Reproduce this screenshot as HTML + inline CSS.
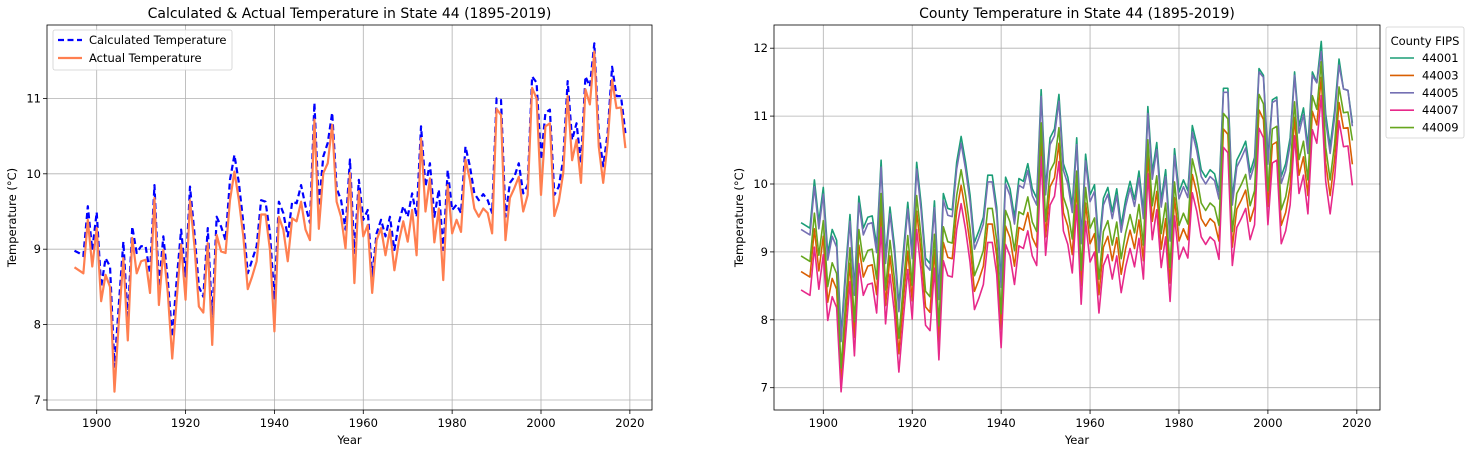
<!DOCTYPE html>
<html><head><meta charset="utf-8"><style>
body{margin:0;background:#fff;}
svg{display:block;font-family:"DejaVu Sans","Liberation Sans",sans-serif;}
</style></head><body>
<svg id="c" width="1470" height="449" viewBox="0 0 1470 449" xmlns="http://www.w3.org/2000/svg"></svg>
<script>
const startYear = 1895;
const actual = [8.76,8.72,8.68,9.39,8.77,9.28,8.31,8.66,8.50,7.11,
8.06,8.88,7.79,9.15,8.68,8.84,8.86,8.42,9.68,8.26,
8.99,8.42,7.55,8.33,9.06,8.33,9.65,9.04,8.24,8.16,
9.08,7.73,9.19,8.97,8.95,9.65,10.03,9.65,9.17,8.47,
8.64,8.84,9.46,9.46,8.99,7.91,9.43,9.26,8.84,9.41,
9.37,9.63,9.26,9.12,10.72,9.27,10.01,10.14,10.65,9.63,
9.43,9.01,10.01,8.55,9.77,9.17,9.32,8.42,9.12,9.28,
8.92,9.26,8.72,9.10,9.37,9.10,9.52,8.92,10.47,9.50,
9.94,9.09,9.54,8.59,9.85,9.21,9.39,9.23,10.19,9.92,
9.54,9.43,9.54,9.48,9.21,10.86,10.78,9.12,9.68,9.81,
9.96,9.50,9.72,11.14,11.00,9.72,10.63,10.67,9.44,9.63,
10.01,11.03,10.18,10.45,9.88,11.12,10.92,11.62,10.36,9.88,
10.41,11.25,10.87,10.88,10.34];
const calculated = [8.98,8.95,8.91,9.57,8.99,9.49,8.50,8.88,8.77,7.44,
8.28,9.10,8.06,9.30,8.95,9.04,9.04,8.68,9.85,8.50,
9.17,8.59,7.84,8.59,9.26,8.64,9.83,9.21,8.50,8.37,
9.28,8.06,9.43,9.30,9.12,9.92,10.25,9.88,9.35,8.68,
8.86,9.04,9.65,9.63,9.21,8.33,9.63,9.48,9.17,9.63,
9.61,9.85,9.57,9.35,10.94,9.57,10.23,10.41,10.81,9.81,
9.65,9.26,10.19,8.95,9.92,9.39,9.52,8.64,9.21,9.39,
9.17,9.43,8.99,9.35,9.57,9.43,9.74,9.43,10.63,9.83,
10.14,9.43,9.79,8.99,10.05,9.52,9.59,9.48,10.36,10.10,
9.74,9.65,9.73,9.65,9.48,11.00,10.98,9.43,9.88,9.96,
10.14,9.74,9.85,11.29,11.21,10.19,10.81,10.85,9.72,9.83,
10.19,11.23,10.45,10.67,10.14,11.29,11.16,11.73,10.54,10.10,
10.54,11.42,11.03,11.03,10.54];
const c44001 = [9.43,9.39,9.35,10.06,9.44,9.95,8.98,9.33,9.17,7.78,
8.73,9.55,8.46,9.82,9.35,9.51,9.53,9.09,10.35,8.93,
9.66,9.09,8.22,9.00,9.73,9.00,10.32,9.71,8.91,8.83,
9.75,8.40,9.86,9.64,9.62,10.32,10.70,10.32,9.84,9.14,
9.31,9.51,10.13,10.13,9.66,8.58,10.10,9.93,9.51,10.08,
10.04,10.30,9.93,9.79,11.39,9.94,10.68,10.81,11.32,10.30,
10.10,9.68,10.68,9.22,10.44,9.84,9.99,9.09,9.79,9.95,
9.59,9.93,9.39,9.77,10.04,9.77,10.19,9.59,11.14,10.17,
10.61,9.76,10.21,9.26,10.52,9.88,10.06,9.90,10.86,10.59,
10.21,10.10,10.21,10.15,9.88,11.41,11.41,9.79,10.35,10.48,
10.63,10.17,10.39,11.70,11.60,10.39,11.24,11.28,10.11,10.30,
10.68,11.65,10.85,11.12,10.55,11.65,11.50,12.10,11.03,10.55,
11.08,11.84,11.40,11.38,10.90];
const c44003 = [8.71,8.67,8.63,9.34,8.72,9.23,8.26,8.61,8.45,7.06,
8.01,8.83,7.74,9.10,8.63,8.79,8.81,8.37,9.63,8.21,
8.94,8.37,7.50,8.28,9.01,8.28,9.60,8.99,8.19,8.11,
9.03,7.68,9.14,8.92,8.90,9.60,9.98,9.60,9.12,8.42,
8.59,8.79,9.41,9.41,8.94,7.86,9.38,9.21,8.79,9.36,
9.32,9.58,9.21,9.07,10.67,9.22,9.96,10.09,10.60,9.58,
9.38,8.96,9.96,8.50,9.72,9.12,9.27,8.37,9.07,9.23,
8.87,9.21,8.67,9.05,9.32,9.05,9.47,8.87,10.42,9.45,
9.89,9.04,9.49,8.54,9.80,9.16,9.34,9.18,10.14,9.87,
9.49,9.38,9.49,9.43,9.16,10.81,10.73,9.07,9.63,9.76,
9.91,9.45,9.67,11.09,10.95,9.67,10.58,10.62,9.39,9.58,
9.96,10.98,10.13,10.40,9.83,11.07,10.87,11.57,10.31,9.83,
10.36,11.20,10.82,10.83,10.29];
const c44005 = [9.33,9.29,9.25,9.96,9.34,9.85,8.88,9.23,9.07,7.68,
8.63,9.45,8.36,9.72,9.25,9.41,9.43,8.99,10.25,8.83,
9.56,8.99,8.12,8.90,9.63,8.90,10.22,9.61,8.81,8.73,
9.65,8.30,9.76,9.54,9.52,10.22,10.60,10.22,9.74,9.04,
9.21,9.41,10.03,10.03,9.56,8.48,10.00,9.83,9.41,9.98,
9.94,10.20,9.83,9.69,11.29,9.84,10.58,10.71,11.22,10.20,
10.00,9.58,10.58,9.12,10.34,9.74,9.89,8.99,9.69,9.85,
9.49,9.83,9.29,9.67,9.94,9.67,10.09,9.49,11.04,10.07,
10.51,9.66,10.11,9.16,10.42,9.78,9.96,9.80,10.76,10.49,
10.11,10.00,10.11,10.05,9.78,11.35,11.35,9.69,10.25,10.38,
10.53,10.07,10.29,11.65,11.57,10.29,11.20,11.24,10.01,10.20,
10.58,11.60,10.75,11.02,10.45,11.60,11.49,11.95,10.93,10.45,
10.98,11.75,11.40,11.38,10.85];
const c44007 = [8.44,8.40,8.36,9.07,8.45,8.96,7.99,8.34,8.18,6.94,
7.74,8.56,7.47,8.83,8.36,8.52,8.54,8.10,9.36,7.94,
8.67,8.10,7.23,8.01,8.74,8.01,9.33,8.72,7.92,7.84,
8.76,7.41,8.87,8.65,8.63,9.33,9.71,9.33,8.85,8.15,
8.32,8.52,9.14,9.14,8.67,7.59,9.11,8.94,8.52,9.09,
9.05,9.31,8.94,8.80,10.40,8.95,9.69,9.82,10.33,9.31,
9.11,8.69,9.69,8.23,9.45,8.85,9.00,8.10,8.80,8.96,
8.60,8.94,8.40,8.78,9.05,8.78,9.20,8.60,10.15,9.18,
9.62,8.77,9.22,8.27,9.53,8.89,9.07,8.91,9.87,9.60,
9.22,9.11,9.22,9.16,8.89,10.54,10.46,8.80,9.36,9.49,
9.64,9.18,9.40,10.82,10.68,9.40,10.31,10.35,9.12,9.31,
9.69,10.71,9.86,10.13,9.56,10.80,10.60,11.30,10.04,9.56,
10.09,10.93,10.55,10.56,9.98];
const c44009 = [8.94,8.90,8.86,9.57,8.95,9.46,8.49,8.84,8.68,7.29,
8.24,9.06,7.97,9.33,8.86,9.02,9.04,8.60,9.86,8.44,
9.17,8.60,7.73,8.51,9.24,8.51,9.83,9.22,8.42,8.34,
9.26,7.91,9.37,9.15,9.13,9.83,10.21,9.83,9.35,8.65,
8.82,9.02,9.64,9.64,9.17,8.09,9.61,9.44,9.02,9.59,
9.55,9.81,9.44,9.30,10.90,9.45,10.19,10.32,10.83,9.81,
9.61,9.19,10.19,8.73,9.95,9.35,9.50,8.60,9.30,9.46,
9.10,9.44,8.90,9.28,9.55,9.28,9.70,9.10,10.65,9.68,
10.12,9.27,9.72,8.77,10.03,9.39,9.57,9.41,10.37,10.10,
9.72,9.61,9.72,9.66,9.39,11.04,10.96,9.30,9.86,9.99,
10.14,9.68,9.90,11.32,11.18,9.90,10.81,10.85,9.62,9.81,
10.19,11.21,10.36,10.63,10.06,11.30,11.10,11.80,10.54,10.06,
10.59,11.43,11.05,11.06,10.64];
const xTicks = [1900,1920,1940,1960,1980,2000,2020];
const yTicksLeft = [7,8,9,10,11];
const yTicksRight = [7,8,9,10,11,12];
const countyNames = ["44001","44003","44005","44007","44009"];
const countyColors = ["#1b9e77","#d95f02","#7570b3","#e7298a","#66a61e"];
const countySeries = [c44001,c44003,c44005,c44007,c44009];

const NS="http://www.w3.org/2000/svg";
const svg=document.getElementById('c');
function mk(tag,attrs,parent){const e=document.createElementNS(NS,tag);for(const k in attrs)e.setAttribute(k,attrs[k]);(parent||svg).appendChild(e);return e;}
function txt(s,attrs,parent){const e=mk('text',attrs,parent);e.textContent=s;return e;}
const FS=11.5;

function panel(cfg){
  const g=mk('g',{});
  
  
  const L=cfg.l,R=cfg.r,T=25,B=410;
  const xs=y=>cfg.x0+(y-1900)*cfg.xk;
  const ys=v=>cfg.y0-(v-cfg.v0)*cfg.yk;
  xTicks.forEach(t=>{const x=xs(t);
    const gl=mk('line',{x1:x,x2:x,y1:T,y2:B,stroke:'#b0b0b0','stroke-width':0.8},g);
    
    mk('line',{x1:x,x2:x,y1:B,y2:B+4,stroke:'#000','stroke-width':0.8},g);
    const tl=txt(String(t),{x:x,y:B+17,'font-size':FS,'text-anchor':'middle',fill:'#000'},g);
    
  });
  cfg.yt.forEach(t=>{const y=ys(t);
    const gl=mk('line',{x1:L,x2:R,y1:y,y2:y,stroke:'#b0b0b0','stroke-width':0.8},g);
    
    mk('line',{x1:L-4,x2:L,y1:y,y2:y,stroke:'#000','stroke-width':0.8},g);
    const tl=txt(String(t),{x:L-6,y:y+4,'font-size':FS,'text-anchor':'end',fill:'#000'},g);
    
  });
  cfg.series.forEach(s=>{
    const pts=s.data.map((v,i)=>xs(startYear+i).toFixed(2)+','+ys(v).toFixed(2)).join(' ');
    const p=mk('polyline',{points:pts,fill:'none',stroke:s.color,'stroke-width':s.w,'stroke-linejoin':'round'},g);
    if(s.dash)p.setAttribute('stroke-dasharray',s.dash);
    
    
  });
  const fr=mk('rect',{x:L,y:T,width:R-L,height:B-T,fill:'none',stroke:'#000','stroke-width':0.8},g);
  
  const ti=txt(cfg.title,{x:(L+R)/2,y:18,'font-size':14,'text-anchor':'middle',fill:'#000'},g);
  
  const xl=txt('Year',{x:(L+R)/2,y:444,'font-size':FS,'text-anchor':'middle',fill:'#000'},g);
  
  const yx=cfg.ylx, yy=(T+B)/2;
  const yl=txt('Temperature (°C)',{x:yx,y:yy,'font-size':FS,'text-anchor':'middle',fill:'#000',transform:`rotate(-90 ${yx} ${yy})`},g);
  
  return g;
}

panel({name:'left-chart',l:47,r:652,x0:96.7,xk:4.443,y0:400,v0:7,yk:75.4,yt:yTicksLeft,ylx:16,
  title:'Calculated & Actual Temperature in State 44 (1895-2019)',
  series:[{name:'calculated-temperature-line',data:calculated,color:'#0000ff',w:2.2,dash:'6,3.5'},
          {name:'actual-temperature-line',data:actual,color:'#ff7f50',w:2.2}]});
panel({name:'right-chart',l:774,r:1380,x0:823.3,xk:4.446,y0:387.7,v0:7,yk:67.9,yt:yTicksRight,ylx:743,
  title:'County Temperature in State 44 (1895-2019)',
  series:countySeries.map((d,i)=>({name:'county-line-'+countyNames[i],data:d,color:countyColors[i],w:1.6}))});

const lg=mk('g',{});


mk('rect',{x:53,y:30,width:179,height:40,rx:2,fill:'#fff','fill-opacity':0.85,stroke:'#d0d0d0','stroke-width':0.8},lg);
mk('line',{x1:58,x2:82,y1:40,y2:40,stroke:'#0000ff','stroke-width':2.2,'stroke-dasharray':'6,3.5'},lg);
const le1=txt('Calculated Temperature',{x:89,y:44,'font-size':FS,fill:'#000'},lg);

mk('line',{x1:58,x2:82,y1:58,y2:58,stroke:'#ff7f50','stroke-width':2.2},lg);
const le2=txt('Actual Temperature',{x:89,y:62,'font-size':FS,fill:'#000'},lg);


const rg=mk('g',{});


mk('rect',{x:1386,y:27,width:78,height:111,rx:2,fill:'#fff',stroke:'#d0d0d0','stroke-width':0.8},rg);
const rt=txt('County FIPS',{x:1425,y:45,'font-size':FS,'text-anchor':'middle',fill:'#000'},rg);

countyNames.forEach((n,i)=>{
  const y=58+i*17.4;
  mk('line',{x1:1390,x2:1414,y1:y,y2:y,stroke:countyColors[i],'stroke-width':1.6},rg);
  const t=txt(n,{x:1422,y:y+4,'font-size':FS,fill:'#000'},rg);
  
  
});
</script>
</body></html>
